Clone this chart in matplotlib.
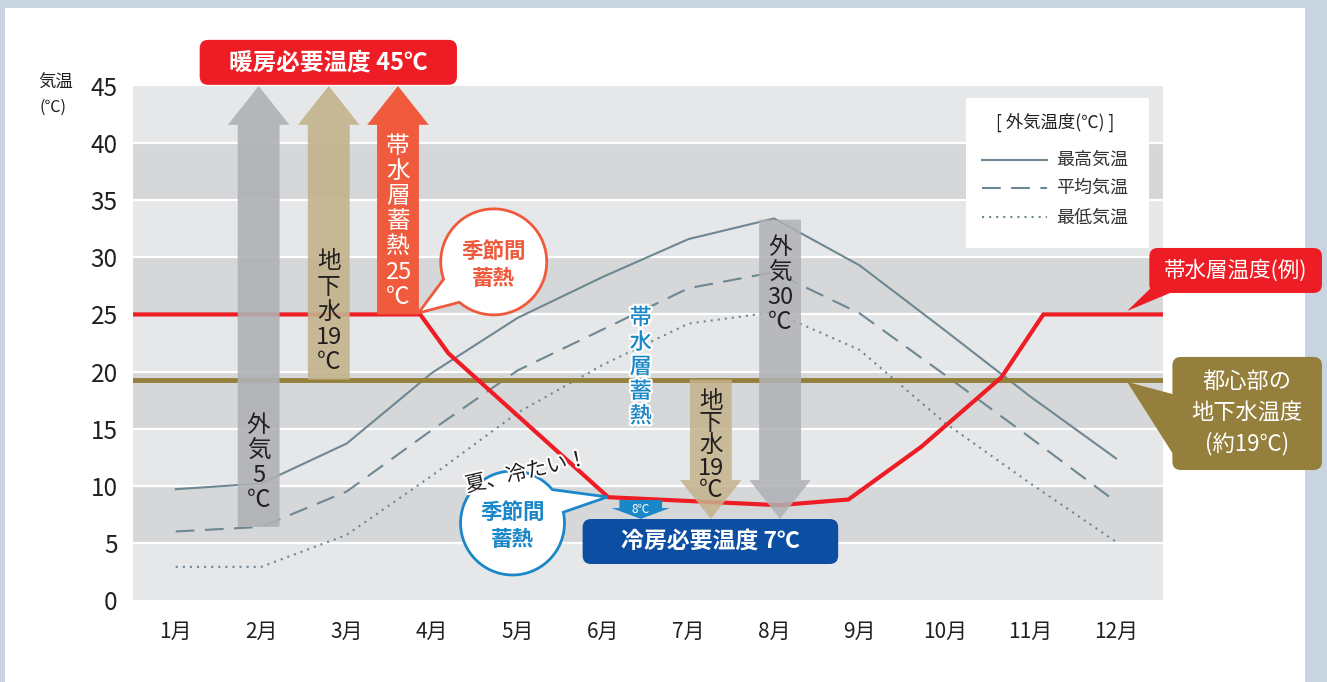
import numpy as np
import matplotlib.pyplot as plt
import matplotlib.patheffects as pe
from matplotlib.patches import Polygon, Rectangle, FancyBboxPatch

plt.rcParams['font.family'] = ['Noto Sans CJK JP', 'DejaVu Sans']

# 外気温度 (月ごとの値)
months = list(range(1, 13))
month_labels = [f"{m}月" for m in months]
max_temp = [9.7, 10.2, 13.7, 19.9, 24.7, 28.3, 31.6, 33.4, 29.3, 23.6, 17.8, 12.4]
avg_temp = [6.0, 6.4, 9.5, 14.9, 20.1, 23.7, 27.3, 28.7, 25.1, 19.7, 14.2, 8.6]
min_temp = [2.9, 2.9, 5.7, 10.9, 16.4, 20.6, 24.2, 25.2, 21.9, 15.5, 10.2, 5.1]

# 帯水層温度(例)
aquifer_x = [0.5, 3.86, 4.19, 6.06, 8.05, 8.87, 9.72, 10.66, 11.15, 12.55]
aquifer_t = [25, 25, 21.6, 9.0, 8.3, 8.8, 13.4, 19.5, 25, 25]

groundwater_t = 19.3
heat_need = 45
cool_need = 7.1

# 矢印 (x位置, 始点温度)
up_x = [1.97, 2.79, 3.60]
up_from = [6.4, 19.3, 25.0]
up_col = ['#b0b1b4', '#c4b38c', '#f05b3e']
up_txt = [["外", "気", "5", "℃"], ["地", "下", "水", "19", "℃"],
          ["帯", "水", "層", "蓄", "熱", "25", "℃"]]
up_txt_top = [15.3, 29.6, 39.7]
up_txt_col = ['#231f20', '#231f20', 'white']

down_x = [7.26, 8.07]
down_from = [19.3, 33.3]
down_col = ['#c4b38c', '#b0b1b4']
down_txt = [["地", "下", "水", "19", "℃"], ["外", "気", "30", "℃"]]
down_txt_top = [17.4, 30.9]
down_txt_step = [1.95, 2.2]

line_col = '#6e8792'
red = '#ee1d25'
brown = '#94803b'
blue = '#1a87c8'
navy = '#0b4ea2'
orange = '#ef5a3c'

fig = plt.figure(figsize=(13.27, 6.82), dpi=100)
fig.patch.set_facecolor('#c8d5e0')
fig.add_artist(Rectangle((5/1327, 0), 1300/1327, 674/682, transform=fig.transFigure,
                         fc='white', ec='none', zorder=0))
ax = fig.add_axes([133/1327, 82/682, 1030/1327, 514/682])
ax.set_xlim(0.5, 12.55)
ax.set_ylim(0, 45)
ASP = 85.5 / 11.42  # px per month / px per degree

for i, lo in enumerate(range(0, 45, 5)):
    ax.axhspan(lo, lo + 5, color='#e6e7e9' if i % 2 == 0 else '#d6d7d9', lw=0, zorder=0)
for y in range(5, 45, 5):
    ax.axhline(y, color='white', lw=1.6, zorder=0.5)
for s in ax.spines.values():
    s.set_visible(False)
ax.set_yticks(range(0, 50, 5))
ax.tick_params(axis='y', length=0, pad=11, labelsize=17.5, labelcolor='#231f20')
ax.set_xticks(months)
ax.set_xticklabels(month_labels)
ax.tick_params(axis='x', length=0, pad=15, labelsize=15, labelcolor='#231f20')
ax.text(-0.075, 1.006, "気温", transform=ax.transAxes, ha='center', va='center', fontsize=12.5, color='#231f20')
ax.text(-0.078, 0.959, "(℃)", transform=ax.transAxes, ha='center', va='center', fontsize=11.5, color='#231f20')

# 外気温度
ax.plot(months, max_temp, color=line_col, lw=1.5, zorder=2)
ax.plot(months, avg_temp, color=line_col, lw=1.5, dashes=(9, 5), zorder=2)
ax.plot(months, min_temp, color=line_col, lw=1.5, dashes=(1, 2.4), zorder=2)
ax.axhline(groundwater_t, color=brown, lw=3.5, zorder=3)
ax.plot(aquifer_x, aquifer_t, color=red, lw=3, zorder=3, solid_joinstyle='miter')


def arrow(x, y0, y1, color, sw=0.245, hw=0.36, hl=3.4, alpha=0.9, z=4):
    sgn = 1 if y1 > y0 else -1
    b = y1 - sgn * hl
    pts = [(x - sw, y0), (x - sw, b), (x - hw, b), (x, y1), (x + hw, b), (x + sw, b), (x + sw, y0)]
    ax.add_patch(Polygon(pts, closed=True, fc=color, ec='none', alpha=alpha, zorder=z, clip_on=False))


def vtext(x, top, tokens, step=2.2, **kw):
    for k, t in enumerate(tokens):
        ax.text(x, top - k * step, t, ha='center', va='center', zorder=6, **kw)


for x, y0, c, tk, tp, tc in zip(up_x, up_from, up_col, up_txt, up_txt_top, up_txt_col):
    arrow(x, y0, heat_need, c, alpha=1 if c == '#f05b3e' else 0.9)
    vtext(x, tp, tk, fontsize=17, color=tc)
for x, y0, c, tk, tp, st in zip(down_x, down_from, down_col, down_txt, down_txt_top, down_txt_step):
    arrow(x, y0, cool_need, c, alpha=0.85)
    vtext(x, tp, tk, step=st, fontsize=17, color='#231f20')

# 8℃ arrow
arrow(6.44, 8.75, cool_need, blue, sw=0.25, hw=0.34, hl=0.95, alpha=1, z=4)
ax.text(6.44, 7.95, "8℃", ha='center', va='center', fontsize=8.5, color='white', zorder=6)

vtext(6.44, 24.7, ["帯", "水", "層", "蓄", "熱"], step=2.15, fontsize=16, fontweight='medium', color=blue,
      path_effects=[pe.withStroke(linewidth=3, foreground='white')])


def box(x0, y0, x1, y1, color, z=7):
    ax.add_patch(FancyBboxPatch((x0, y0), x1 - x0, y1 - y0, boxstyle="round,pad=0,rounding_size=0.1",
                                mutation_aspect=ASP, fc=color, ec='none', zorder=z, clip_on=False))


box(1.28, 45.1, 4.29, 49.04, red)
ax.text(2.785, 47.1, "暖房必要温度 45℃", ha='center', va='center', fontsize=17, fontweight='bold',
        color='white', zorder=8)
box(5.76, 3.15, 8.75, 7.09, navy)
ax.text(7.255, 5.12, "冷房必要温度 7℃", ha='center', va='center', fontsize=16.5, fontweight='bold',
        color='white', zorder=8)

# 右側ラベル
ax.add_patch(Polygon([(12.13, 25.3), (12.42, 27.4), (12.64, 26.9)], fc=red, ec='none', zorder=7, clip_on=False))
box(12.39, 26.88, 14.41, 30.82, red)
ax.text(13.40, 28.85, "帯水層温度(例)", ha='center', va='center', fontsize=15.5, color='white', zorder=8)
ax.add_patch(Polygon([(12.13, 19.1), (12.7, 17.95), (12.7, 12.4)], fc='#957f3c', ec='none', zorder=7, clip_on=False))
box(12.66, 11.38, 14.41, 21.28, '#957f3c')
ax.text(13.53, 16.4, "都心部の\n地下水温度\n(約19℃)", ha='center', va='center', fontsize=16,
        color='white', linespacing=1.45, zorder=8)


def callout(cx, cy, rx, ry, a0, a1, tip, color, z=7):
    t = np.radians(np.linspace(a0, a1, 120))
    pts = list(zip(cx + rx * np.cos(t), cy + ry * np.sin(t))) + [tip]
    ax.add_patch(Polygon(pts, closed=True, fc='white', ec=color, lw=2, zorder=z, clip_on=False))


callout(4.72, 29.6, 0.62, 4.64, 229.6, 559, (3.84, 25.13), orange)
ax.text(4.72, 29.35, "季節間\n蓄熱", ha='center', va='center', fontsize=15.5, fontweight='bold',
        color=orange, linespacing=1.35, zorder=8)
callout(4.94, 6.74, 0.608, 4.55, 40, 372, (6.05, 9.02), blue)
ax.text(4.94, 6.5, "季節間\n蓄熱", ha='center', va='center', fontsize=15.5, fontweight='bold',
        color=blue, linespacing=1.35, zorder=8)
ax.text(5.105, 11.2, "夏、冷たい！", ha='center', va='center', fontsize=15, rotation=13, color='#231f20',
        zorder=9, path_effects=[pe.withStroke(linewidth=3, foreground='white')])

# 凡例
ax.add_patch(Rectangle((10.24, 30.82), 2.15, 13.14, fc='white', ec='none', zorder=7))
ax.text(11.29, 41.8, "[ 外気温度(℃) ]", ha='center', va='center', fontsize=12.5, color='#231f20', zorder=8)
leg_y = [38.5, 36.1, 33.5]
leg_lab = ["最高気温", "平均気温", "最低気温"]
leg_dash = [None, (9, 5), (1, 2.4)]
for y, lab, d in zip(leg_y, leg_lab, leg_dash):
    ln, = ax.plot([10.43, 11.19], [y, y], color=line_col, lw=1.5, zorder=8)
    if d:
        ln.set_dashes(d)
    ax.text(11.30, y, lab, ha='left', va='center', fontsize=13, color='#333333', zorder=8)

fig.savefig('out.png', dpi=100, facecolor=fig.get_facecolor())
